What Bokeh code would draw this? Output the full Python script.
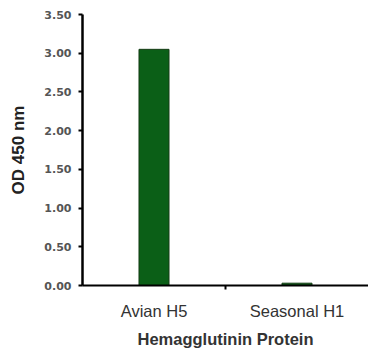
from bokeh.plotting import figure
from bokeh.models import FixedTicker, Range1d, ColumnDataSource, NumeralTickFormatter
from bokeh.embed import file_html
from bokeh.resources import INLINE

categories = ["Avian H5", "Seasonal H1"]
od_values = [3.05, 0.03]
y_ticks = [0.0, 0.5, 1.0, 1.5, 2.0, 2.5, 3.0, 3.5]

positions = [i + 0.5 for i in range(len(categories))]
src = ColumnDataSource(dict(x=positions, top=od_values))

p = figure(width=368, height=350, output_backend="svg", toolbar_location=None,
           x_range=Range1d(0, len(categories)), y_range=Range1d(0, 3.5),
           min_border_left=82, min_border_top=14, min_border_right=0, min_border_bottom=0)
p.outline_line_color = None
p.xgrid.visible = False
p.ygrid.visible = False

p.vbar(x="x", top="top", width=0.21, source=src, fill_color="#0b5f17", line_color="#163d16", line_width=1)

# y axis
p.yaxis.ticker = FixedTicker(ticks=y_ticks)
p.yaxis.formatter = NumeralTickFormatter(format="0.00")
p.yaxis.axis_line_width = 2.5
p.yaxis.axis_line_color = "black"
p.yaxis.major_tick_line_width = 2
p.yaxis.major_tick_out = 4
p.yaxis.major_tick_in = 0
p.yaxis.minor_tick_line_color = None
p.yaxis.major_label_text_font = "DejaVu Sans"
p.yaxis.major_label_text_font_style = "bold"
p.yaxis.major_label_text_font_size = "11px"
p.yaxis.major_label_text_color = "#555555"
p.yaxis.major_label_standoff = 7
p.yaxis.axis_label = "OD 450 nm"
p.yaxis.axis_label_text_font = "Liberation Sans"
p.yaxis.axis_label_text_font_style = "bold"
p.yaxis.axis_label_text_font_size = "17px"
p.yaxis.axis_label_text_color = "#222222"
p.yaxis.axis_label_standoff = 13

# x axis
p.xaxis.ticker = FixedTicker(ticks=positions, minor_ticks=[1.0])
p.xaxis.major_label_overrides = {pos: c for pos, c in zip(positions, categories)}
p.xaxis.axis_line_width = 2
p.xaxis.axis_line_color = "black"
p.xaxis.major_tick_out = 0
p.xaxis.major_tick_in = 0
p.xaxis.minor_tick_out = 4
p.xaxis.minor_tick_in = 0
p.xaxis.minor_tick_line_width = 2
p.xaxis.minor_tick_line_color = "black"
p.xaxis.major_label_text_font = "Liberation Sans"
p.xaxis.major_label_text_font_size = "16.5px"
p.xaxis.major_label_text_color = "#333333"
p.xaxis.major_label_standoff = 12
p.xaxis.axis_label = "Hemagglutinin Protein"
p.xaxis.axis_label_text_font = "Liberation Sans"
p.xaxis.axis_label_text_font_style = "bold"
p.xaxis.axis_label_text_font_size = "16.5px"
p.xaxis.axis_label_text_color = "#333333"
p.xaxis.axis_label_standoff = 7

open("out.html", "w").write(file_html(p, INLINE))
